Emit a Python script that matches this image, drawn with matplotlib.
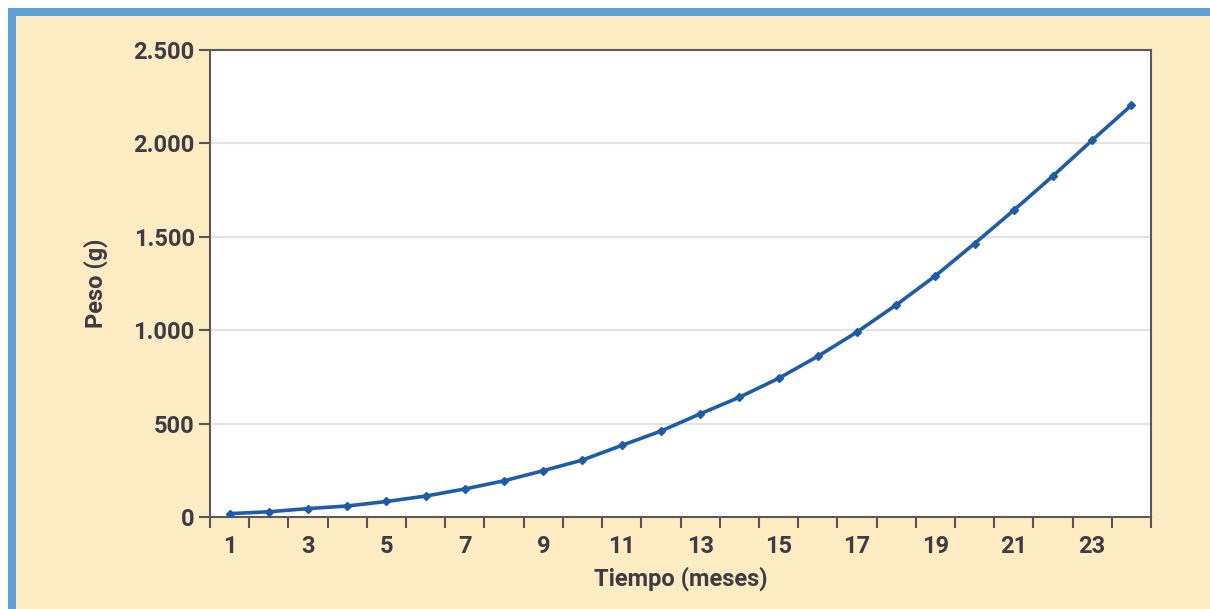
import matplotlib.pyplot as plt
from matplotlib.patches import Rectangle
from matplotlib.ticker import FuncFormatter

# data --------------------------------------------------------
meses = list(range(1, 25))
peso = [18, 28, 45, 59, 83, 112, 150, 194, 248, 305,
        383, 460, 552, 641, 742, 860, 990, 1135, 1291, 1464,
        1642, 1826, 2017, 2204]
etiquetas_x = [str(m) for m in meses if m % 2 == 1]

texto = '#3b3c45'
azul = '#1f5ca8'

plt.rcParams['font.family'] = ['Roboto', 'DejaVu Sans']
plt.rcParams['font.weight'] = 'bold'

W, H = 1210, 609
fig = plt.figure(figsize=(W / 100, H / 100), dpi=100, facecolor='white')

# frame: blue border top/left, pale yellow fill ---------------
fig.patches.append(Rectangle((8 / W, 0), 1, 1 - 8 / H, transform=fig.transFigure,
                             facecolor='#5b9fd6', edgecolor='none', zorder=-2))
fig.patches.append(Rectangle((16 / W, 0), 1, 1 - 16 / H, transform=fig.transFigure,
                             facecolor='#fdebc1', edgecolor='none', zorder=-1))

ax = fig.add_axes([210 / W, 1 - 517 / H, (1151 - 210) / W, (517 - 50) / H])
ax.set_facecolor('white')

ax.plot(meses, peso, color=azul, lw=2.6, marker='D', markersize=4.5, zorder=3)

ax.set_xlim(0.5, 24.5)
ax.set_ylim(0, 2500)
ax.set_yticks(range(0, 2501, 500))
ax.yaxis.set_major_formatter(FuncFormatter(lambda v, p: f'{int(v):,}'.replace(',', '.')))

ax.set_xticks([m for m in meses if m % 2 == 1])
ax.set_xticklabels(etiquetas_x)
ax.set_xticks([m + 0.5 for m in range(0, 25)], minor=True)
ax.tick_params(axis='x', which='major', length=0, pad=13, labelsize=17, colors=texto)
ax.tick_params(axis='x', which='minor', length=8, width=1.5, color='#555555', direction='out')
ax.tick_params(axis='y', length=8, width=1.5, color='#555555', pad=3, labelsize=17, labelcolor=texto)

ax.grid(axis='y', color='#e3e3e3', lw=1.5, zorder=0)
for s in ax.spines.values():
    s.set_color('#5a5a5a')
    s.set_linewidth(1.5)

ax.set_xlabel('Tiempo (meses)', fontsize=17, fontweight='bold', color=texto, labelpad=6)
ax.set_ylabel('Peso (g)', fontsize=17, fontweight='bold', color=texto, labelpad=18)

plt.savefig('out.png', dpi=100, facecolor=fig.get_facecolor())
